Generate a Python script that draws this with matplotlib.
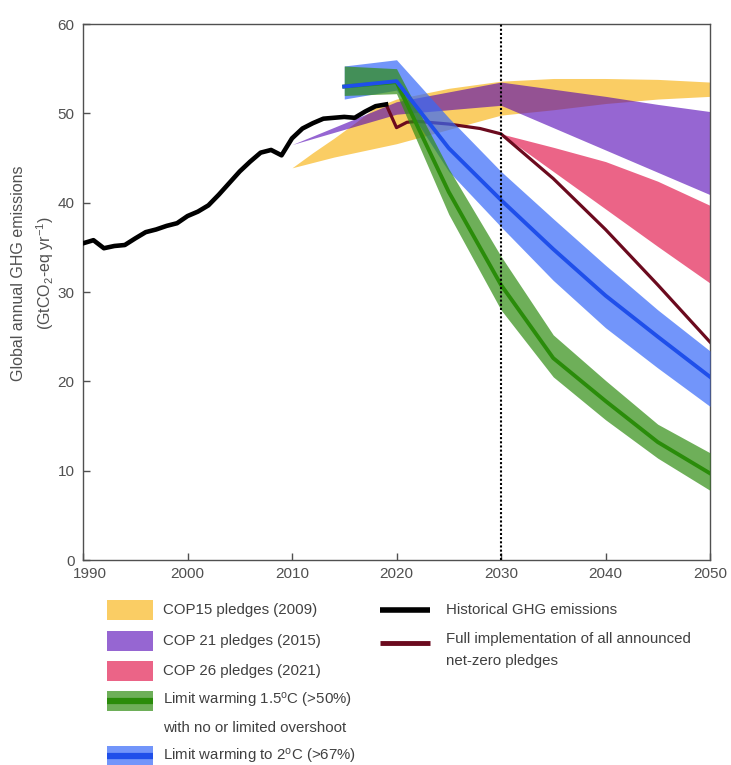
import matplotlib
matplotlib.use('Agg')
import matplotlib.pyplot as plt
from matplotlib.patches import Rectangle
from matplotlib.lines import Line2D
from matplotlib.transforms import ScaledTranslation

plt.rcParams['font.family'] = ['Liberation Sans', 'DejaVu Sans']
plt.rcParams['mathtext.default'] = 'regular'

# Historyczne emisje GHG (GtCO2-eq/rok)
hist_years = list(range(1990, 2020))
hist_vals = [35.45, 35.8, 34.9, 35.15, 35.26, 36.0, 36.7, 37.0, 37.4, 37.7,
             38.5, 39.0, 39.7, 40.9, 42.2, 43.5, 44.6, 45.6, 45.9, 45.3,
             47.2, 48.3, 48.9, 49.4, 49.5, 49.6, 49.5, 50.2, 50.8, 51.0]

# Pelna implementacja zobowiazan net-zero
nz_years = [2019, 2020, 2021, 2022, 2025, 2028, 2030, 2035, 2040, 2045, 2050]
nz_vals = [51.0, 48.4, 49.0, 49.1, 48.8, 48.3, 47.7, 42.7, 37.0, 30.8, 24.4]

# COP15 (2009)
cop15_years = [2010, 2012, 2014, 2016, 2018, 2020, 2025, 2030, 2035, 2040, 2045, 2050]
cop15_low = [43.9, 44.5, 45.1, 45.6, 46.1, 46.6, 48.2, 49.8, 50.4, 51.1, 51.6, 51.9]
cop15_high = [43.9, 45.6, 47.2, 48.9, 50.7, 51.6, 52.8, 53.6, 53.9, 53.9, 53.8, 53.5]

# COP21 (2015)
cop21_years = [2010, 2020, 2025, 2030, 2035, 2040, 2045, 2050]
cop21_low = [46.5, 49.9, 50.4, 50.9, 48.4, 45.9, 43.4, 40.9]
cop21_high = [46.5, 51.3, 52.4, 53.5, 52.7, 51.9, 51.0, 50.2]

# COP26 (2021)
cop26_years = [2030, 2035, 2040, 2045, 2050]
cop26_low = [47.7, 43.5, 39.3, 35.1, 31.0]
cop26_high = [47.7, 46.2, 44.6, 42.4, 39.7]

# Sciezki 2C (>67%) i 1.5C (>50%)
path_years = [2015, 2020, 2025, 2030, 2035, 2040, 2045, 2050]
c2_med = [53.0, 53.6, 46.1, 40.3, 34.8, 29.6, 25.0, 20.5]
c2_low = [51.6, 52.6, 43.5, 37.3, 31.3, 26.0, 21.5, 17.2]
c2_high = [55.3, 56.0, 49.5, 43.5, 38.2, 33.0, 28.0, 23.4]
c15_med = [53.0, 53.5, 41.2, 30.8, 22.6, 17.8, 13.2, 9.7]
c15_low = [52.0, 52.2, 38.7, 28.0, 20.5, 15.7, 11.4, 7.8]
c15_high = [55.3, 55.0, 43.8, 34.0, 25.2, 20.1, 15.2, 12.0]

x_ticks = [1990, 2000, 2010, 2020, 2030, 2040, 2050]
y_ticks = [0, 10, 20, 30, 40, 50, 60]

# kolory
YELLOW = '#FACD64'
PURPLE = (80/255, 0, 180/255, 0.6)
PINK = '#EB6487'
BLUE_BAND = (55/255, 105/255, 248/255, 0.7)
GREEN_BAND = (48/255, 141/255, 19/255, 0.7)
BLUE_LINE = '#1F4FEA'
GREEN_LINE = '#2A8C0A'
RED_LINE = '#6B0A1E'
GREY = '#505050'
TXT = '#404040'

W, H = 731, 765
fig = plt.figure(figsize=(W / 100, H / 100), dpi=100)
ax = fig.add_axes([83 / W, 1 - 560 / H, 627 / W, 536 / H])

ax.fill_between(cop15_years, cop15_low, cop15_high, color=YELLOW, lw=0, zorder=1)
ax.fill_between(cop21_years, cop21_low, cop21_high, color=PURPLE, lw=0, zorder=2)
ax.fill_between(cop26_years, cop26_low, cop26_high, color=PINK, lw=0, zorder=2)
ax.plot(nz_years, nz_vals, color=RED_LINE, lw=2.3, zorder=2.5)
ax.fill_between(path_years, c2_low, c2_high, color=BLUE_BAND, lw=0, zorder=3)
ax.fill_between(path_years, c15_low, c15_high, color=GREEN_BAND, lw=0, zorder=4)
ax.plot(path_years, c15_med, color=GREEN_LINE, lw=2.8, zorder=5)
ax.plot(path_years, c2_med, color=BLUE_LINE, lw=2.8, zorder=6)
ax.plot(hist_years, hist_vals, color='black', lw=3.3, zorder=6)
ax.axvline(2030, color='black', ls=(0, (1, 1)), lw=1.5, zorder=7)

ax.set_xlim(1990, 2050)
ax.set_ylim(0, 60)
ax.set_xticks(x_ticks)
ax.set_yticks(y_ticks)
ax.tick_params(direction='in', length=5, width=1, color=GREY, labelcolor=GREY,
               labelsize=11)
ax.tick_params(axis='y', pad=6)
ax.tick_params(axis='x', pad=5)
for s in ax.spines.values():
    s.set_color(GREY)
    s.set_linewidth(1)

# przesuniecie etykiety 1990 w prawo
lbl = ax.xaxis.get_major_ticks()[0].label1
lbl.set_transform(lbl.get_transform() + ScaledTranslation(5 / 72, 0, fig.dpi_scale_trans))

ax.text(-0.079, 0.535, 'Global annual GHG emissions\n(GtCO$_2$-eq yr$^{-1}$)',
        transform=ax.transAxes, rotation=90, ha='center', va='center',
        multialignment='center', fontsize=11.5, color=GREY, linespacing=1.5)

# legenda (wspolrzedne w pikselach od gory)
def fx(x):
    return x / W

def fy(y):
    return 1 - y / H

left_items = [
    (YELLOW, None, ['COP15 pledges (2009)'], 610),
    (PURPLE, None, ['COP 21 pledges (2015)'], 641),
    (PINK, None, ['COP 26 pledges (2021)'], 671),
    (GREEN_BAND, GREEN_LINE, ['Limit warming 1.5$^{o}$C (>50%)',
                              'with no or limited overshoot'], 701),
    (BLUE_BAND, BLUE_LINE, ['Limit warming to 2$^{o}$C (>67%)'], 756),
]
for fc, lc, lines, yc in left_items:
    fig.add_artist(Rectangle((fx(107), fy(yc + 10)), fx(153) - fx(107), 20 / H,
                             transform=fig.transFigure, facecolor=fc, lw=0))
    if lc is not None:
        fig.add_artist(Line2D([fx(107), fx(153)], [fy(yc), fy(yc)],
                              transform=fig.transFigure, color=lc, lw=4.5,
                              solid_capstyle='butt'))
    for i, line in enumerate(lines):
        fig.text(fx(163), fy(yc + 27 * i), line, ha='left', va='center',
                 fontsize=10.8, color=TXT)

right_items = [
    ('black', ['Historical GHG emissions'], 610, 610, 4),
    (RED_LINE, ['Full implementation of all announced', 'net-zero pledges'], 643, 639, 3.5),
]
for lc, lines, yl, yt, lw in right_items:
    fig.add_artist(Line2D([fx(380), fx(430)], [fy(yl), fy(yl)],
                          transform=fig.transFigure, color=lc, lw=lw,
                          solid_capstyle='butt'))
    for i, line in enumerate(lines):
        fig.text(fx(446), fy(yt + 22 * i), line, ha='left', va='center',
                 fontsize=10.8, color=TXT)

plt.savefig('out.png', dpi=100)
